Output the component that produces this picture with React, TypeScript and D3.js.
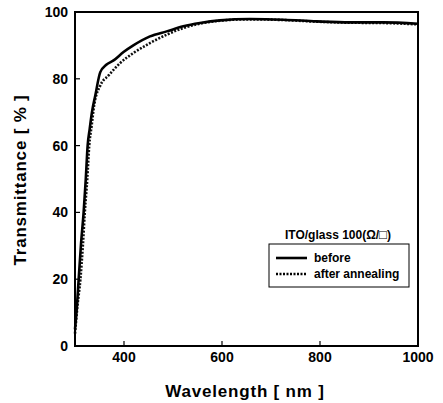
import React from 'react'
import * as d3 from 'd3'

const beforeWl = [300, 304, 307.5, 312, 317.6, 322, 325.8, 330, 334.6, 341.4, 351.6, 363.8, 378.7, 399, 419, 453, 487, 521, 555, 596, 657, 725, 793, 861, 929, 1000]
const beforeT = [5, 12, 20, 30, 40, 50, 60, 65, 70, 75, 82, 84.2, 85.5, 88, 90, 92.7, 94.2, 95.7, 96.7, 97.5, 97.9, 97.7, 97.2, 96.9, 96.9, 96.5]

const afterWl = [300, 305, 311, 316, 320, 325, 329, 334, 339, 351.6, 368.5, 392, 419, 453, 487, 521, 555, 596, 657, 725, 793, 861, 929, 1000]
const afterT = [3.7, 12, 20, 30, 40, 50, 60, 66, 72, 78, 81, 84.7, 87.7, 90.7, 93.2, 95.2, 96.5, 97.4, 97.8, 97.6, 97.1, 96.8, 96.7, 96.3]

const xTicks = [300, 400, 600, 800, 1000]
const xLabels = [400, 600, 800, 1000]
const yTicks = [0, 20, 40, 60, 80, 100]

const W = 443
const H = 403
const margin = { left: 75, right: 25, top: 12, bottom: 57 }

const App = () => {
    const x = d3.scaleLinear().domain([300, 1000]).range([margin.left, W - margin.right])
    const y = d3.scaleLinear().domain([0, 100]).range([H - margin.bottom, margin.top])

    const line = d3.line<[number, number]>()
        .x(d => x(d[0]))
        .y(d => y(d[1]))
        .curve(d3.curveMonotoneX)

    const beforePts = beforeWl.map((w, i) => [w, beforeT[i]] as [number, number])
    const afterPts = afterWl.map((w, i) => [w, afterT[i]] as [number, number])

    const font = 'Liberation Sans, Arial, sans-serif'
    const x0 = x(300), x1 = x(1000), y0 = y(0), y1 = y(100)

    return (
        <svg width={W} height={H} style={{ position: 'absolute', left: 0, top: 0, background: '#fff' }}>
            <path d={line(afterPts) || ''} fill="none" stroke="#111" strokeWidth={2.6} strokeDasharray="2,1.5" />
            <path d={line(beforePts) || ''} fill="none" stroke="#000" strokeWidth={2.6} />

            <rect x={x0} y={y1} width={x1 - x0} height={y0 - y1} fill="none" stroke="#000" strokeWidth={2} />

            {xTicks.map(t => (
                <line key={'xt' + t} x1={x(t)} x2={x(t)} y1={y0} y2={y0 - 5} stroke="#000" strokeWidth={1.2} />
            ))}
            {xLabels.map(t => (
                <text key={'xl' + t} x={x(t)} y={y0 + 16} textAnchor="middle" fontFamily={font} fontSize={14} fontWeight="bold" fill="#000">{t}</text>
            ))}
            {yTicks.map(t => (
                <g key={'y' + t}>
                    <line x1={x0} x2={x0 + 5} y1={y(t)} y2={y(t)} stroke="#000" strokeWidth={1.2} />
                    <text x={68} y={y(t) + 5} textAnchor="end" fontFamily={font} fontSize={14} fontWeight="bold" fill="#000">{t}</text>
                </g>
            ))}

            <text x={245} y={397} textAnchor="middle" fontFamily={font} fontSize={17} fontWeight="bold" letterSpacing={0.8} fill="#000">Wavelength [ nm ]</text>
            <text transform={`translate(26,180) rotate(-90)`} textAnchor="middle" fontFamily={font} fontSize={17} fontWeight="bold" letterSpacing={0.8} fill="#000">Transmittance [ % ]</text>

            <text x={285} y={239} fontFamily={font} fontSize={12} fontWeight="bold" fill="#000">ITO/glass 100(Ω/<tspan fontSize={13}>□</tspan>)</text>
            <rect x={269} y={244} width={140} height={43} fill="#fff" stroke="#000" strokeWidth={1} />
            <line x1={276} x2={307} y1={258} y2={258} stroke="#000" strokeWidth={2.6} />
            <text x={314} y={262} fontFamily={font} fontSize={12} fontWeight="bold" fill="#000">before</text>
            <line x1={276} x2={307} y1={274} y2={274} stroke="#000" strokeWidth={2.6} strokeDasharray="2,1.5" />
            <text x={314} y={278} fontFamily={font} fontSize={12} fontWeight="bold" fill="#000">after annealing</text>
        </svg>
    )
}

export default App
